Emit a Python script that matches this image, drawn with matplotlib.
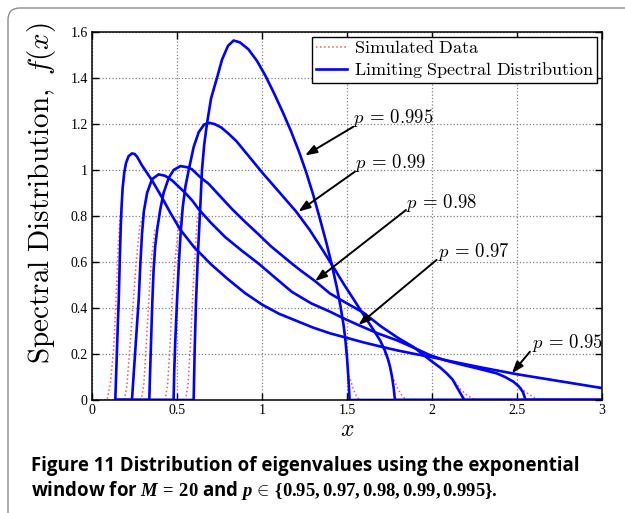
import matplotlib.pyplot as plt
from matplotlib.patches import FancyBboxPatch
from matplotlib.transforms import IdentityTransform

plt.rcParams['font.family'] = 'serif'
plt.rcParams['font.serif'] = ['Liberation Serif', 'DejaVu Serif']
plt.rcParams['mathtext.fontset'] = 'cm'
# fonts for the caption (math_fontfamily='custom')
plt.rcParams['mathtext.rm'] = 'Open Sans:bold'
plt.rcParams['mathtext.it'] = 'Liberation Serif:italic:bold'
plt.rcParams['mathtext.bf'] = 'Liberation Serif:bold'

# limiting spectral distribution
x95 = [0.137, 0.142, 0.147, 0.152, 0.157, 0.161, 0.165, 0.169, 0.174, 0.18, 0.19, 0.2, 0.215, 0.235, 0.25, 0.265,
       0.294, 0.353, 0.412, 0.46, 0.52, 0.6, 0.7, 0.8, 0.9, 1.0, 1.1, 1.2, 1.3, 1.4, 1.5,
       1.6, 1.7, 1.8, 1.9, 2.0, 2.1, 2.2, 2.3, 2.4, 2.5, 2.6, 2.7, 2.8, 2.9, 3.0]
y95 = [0, 0.11, 0.22, 0.33, 0.43, 0.54, 0.65, 0.75, 0.84, 0.92, 0.99, 1.03, 1.06, 1.072, 1.07, 1.058,
       1.02, 0.955, 0.88, 0.815, 0.74, 0.665, 0.59, 0.525, 0.465, 0.415, 0.375, 0.345, 0.315, 0.29, 0.27,
       0.25, 0.232, 0.215, 0.2, 0.186, 0.17, 0.155, 0.14, 0.126, 0.112, 0.1, 0.088, 0.076, 0.064, 0.052]

x97 = [0.137, 0.235, 0.245, 0.255, 0.265, 0.275, 0.285, 0.294, 0.305, 0.324, 0.353, 0.392, 0.43, 0.471, 0.549,
       0.59, 0.627, 0.7, 0.784, 0.88, 0.98, 1.08, 1.176, 1.29, 1.4, 1.48, 1.567, 1.68, 1.792, 1.9,
       1.988, 2.08, 2.184, 2.28, 2.38, 2.43, 2.478, 2.51, 2.535, 2.55, 3.0]
y97 = [0, 0, 0.11, 0.22, 0.33, 0.44, 0.6, 0.72, 0.82, 0.9, 0.96, 0.981, 0.975, 0.955, 0.9,
       0.867, 0.83, 0.77, 0.708, 0.65, 0.593, 0.53, 0.47, 0.42, 0.384, 0.355, 0.326, 0.29, 0.26, 0.225,
       0.195, 0.172, 0.152, 0.135, 0.116, 0.1, 0.08, 0.06, 0.035, 0, 0]

x98 = [0.137, 0.337, 0.343, 0.349, 0.355, 0.362, 0.372, 0.385, 0.402, 0.421, 0.451, 0.48, 0.52, 0.56, 0.588,
       0.635, 0.686, 0.755, 0.824, 0.9, 0.98, 1.05, 1.176, 1.224, 1.312, 1.4, 1.5, 1.596, 1.7, 1.8,
       1.89, 1.988, 2.05, 2.086, 2.12, 2.155, 2.19, 3.0]
y98 = [0, 0, 0.15, 0.29, 0.43, 0.56, 0.67, 0.75, 0.83, 0.9, 0.965, 1.0, 1.017, 1.012, 1.003,
       0.97, 0.94, 0.885, 0.83, 0.775, 0.72, 0.67, 0.593, 0.565, 0.517, 0.463, 0.42, 0.38, 0.32, 0.27,
       0.231, 0.174, 0.14, 0.116, 0.09, 0.045, 0, 0]

x99 = [0.137, 0.48, 0.484, 0.49, 0.5, 0.51, 0.52, 0.534, 0.55, 0.569, 0.598, 0.628, 0.66, 0.69, 0.72,
       0.76, 0.8, 0.85, 0.9, 0.95, 1.0, 1.1, 1.2, 1.28, 1.35, 1.42, 1.48, 1.537, 1.58, 1.62, 1.66,
       1.694, 1.72, 1.74, 1.753, 1.765, 1.775, 1.782, 3.0]
y99 = [0, 0, 0.13, 0.26, 0.43, 0.58, 0.71, 0.84, 0.93, 1.0, 1.1, 1.165, 1.198, 1.205, 1.2,
       1.185, 1.16, 1.125, 1.08, 1.035, 0.99, 0.905, 0.82, 0.74, 0.66, 0.578, 0.505, 0.44, 0.39, 0.345, 0.3,
       0.26, 0.22, 0.18, 0.145, 0.1, 0.05, 0, 0]

x995 = [0.137, 0.598, 0.604, 0.612, 0.624, 0.637, 0.647, 0.66, 0.676, 0.7, 0.735, 0.765, 0.8, 0.833, 0.87,
        0.92, 0.97, 1.02, 1.07, 1.12, 1.17, 1.22, 1.26, 1.3, 1.34, 1.38, 1.41, 1.44, 1.46, 1.48,
        1.49, 1.5, 1.507, 1.512, 1.515, 3.0]
y995 = [0, 0, 0.22, 0.43, 0.65, 0.84, 1.0, 1.11, 1.2, 1.31, 1.4, 1.48, 1.54, 1.563, 1.555,
        1.525, 1.475, 1.41, 1.335, 1.255, 1.17, 1.075, 0.99, 0.895, 0.79, 0.68, 0.59, 0.49, 0.415, 0.325,
        0.265, 0.185, 0.11, 0.05, 0, 0]

# simulated data: where it leaves the limiting curve (smoother edges)
sim_left = {
    0.95: ([0, 0.088, 0.108, 0.127, 0.141, 0.153, 0.165], [0, 0, 0.07, 0.22, 0.43, 0.65, 0.8]),
    0.97: ([0, 0.19, 0.205, 0.22, 0.24, 0.26, 0.28], [0, 0, 0.06, 0.2, 0.4, 0.6, 0.75]),
    0.98: ([0, 0.29, 0.305, 0.32, 0.335, 0.35, 0.37], [0, 0, 0.07, 0.25, 0.45, 0.62, 0.74]),
    0.99: ([0, 0.43, 0.445, 0.46, 0.472, 0.49, 0.51], [0, 0, 0.07, 0.25, 0.45, 0.62, 0.76]),
    0.995: ([0, 0.55, 0.565, 0.58, 0.592, 0.605, 0.618], [0, 0, 0.07, 0.25, 0.45, 0.62, 0.78]),
}
sim_right = {
    0.95: ([], []),
    0.97: ([2.52, 2.55, 2.58, 2.61, 2.64, 3.0], [0.055, 0.035, 0.02, 0.008, 0, 0]),
    0.98: ([2.14, 2.17, 2.2, 2.23, 2.26, 3.0], [0.075, 0.045, 0.025, 0.01, 0, 0]),
    0.99: ([1.775, 1.795, 1.815, 1.835, 1.855, 3.0], [0.09, 0.055, 0.028, 0.01, 0, 0]),
    0.995: ([1.52, 1.535, 1.55, 1.565, 1.58, 3.0], [0.09, 0.05, 0.025, 0.008, 0, 0]),
}

curves = {0.95: (x95, y95), 0.97: (x97, y97), 0.98: (x98, y98), 0.99: (x99, y99), 0.995: (x995, y995)}

# annotation: label position, arrow tail, arrow tip
labels = {
    0.995: ((1.537, 1.226), (1.537, 1.188), (1.253, 1.063)),
    0.99: ((1.547, 1.029), (1.547, 0.993), (1.214, 0.819)),
    0.98: ((1.847, 0.858), (1.847, 0.826), (1.312, 0.517)),
    0.97: ((2.037, 0.645), (2.027, 0.609), (1.567, 0.326)),
    0.95: ((2.586, 0.246), (2.576, 0.210), (2.470, 0.116)),
}


def sim_curve(bx, by, left, right):
    lx, ly = left
    rx, ry = right
    peak = bx[by.index(max(by))]
    i = next(k for k, v in enumerate(by) if v > ly[-1] and bx[k] > lx[-1])
    mx, my = [], []
    for a, b in zip(bx[i:], by[i:]):
        if rx and a >= rx[0]:
            break
        if rx and a > peak and b < ry[0]:
            break
        mx.append(a)
        my.append(b)
    return lx + mx + rx, ly + my + ry


fig = plt.figure(figsize=(6.25, 5.13), dpi=100)
ax = fig.add_axes([92 / 625, 113 / 513, 510 / 625, 368 / 513])

first = True
for p, (bx, by) in curves.items():
    sx, sy = sim_curve(bx, by, sim_left[p], sim_right[p])
    ax.plot(sx, sy, ':', color='#ff5555', lw=1.1, label=r'$\mathrm{Simulated\ Data}$' if first else None)
    first = False
first = True
for p, (bx, by) in curves.items():
    ax.plot(bx, by, '-', color='#0000ff', lw=1.9,
            label=r'$\mathrm{Limiting\ Spectral\ Distribution}$' if first else None)
    first = False

for p, (txt, tail, tip) in labels.items():
    ax.annotate('', xy=tip, xytext=tail,
                arrowprops=dict(arrowstyle='-|>,head_length=0.7,head_width=0.25', color='k', lw=1.4,
                                shrinkA=0, shrinkB=0))
    ax.text(txt[0], txt[1], r'$p\,=\,%s$' % p, fontsize=13.5, ha='left', va='center')

ax.set_xlim(0, 3)
ax.set_ylim(0, 1.6)
ax.set_xticks([0, 0.5, 1, 1.5, 2, 2.5, 3])
ax.set_xticklabels(['0', '0.5', '1', '1.5', '2', '2.5', '3'])
ax.set_yticks([0, 0.2, 0.4, 0.6, 0.8, 1.0, 1.2, 1.4, 1.6])
ax.set_yticklabels(['0', '0.2', '0.4', '0.6', '0.8', '1', '1.2', '1.4', '1.6'])
ax.tick_params(direction='in', top=True, right=True, length=5, width=1, labelsize=10, pad=3)
ax.grid(True, linestyle=':', color='0.5', lw=0.9)
for s in ax.spines.values():
    s.set_linewidth(1.1)

ax.set_xlabel(r'$x$', fontsize=17, labelpad=2)
ax.set_ylabel(r'$\mathrm{Spectral\ Distribution,}\ f(x)$', fontsize=21)
ax.yaxis.set_label_coords(-0.066, 0.5625)

leg = ax.legend(loc='upper right', bbox_to_anchor=(1, 1), borderaxespad=0.25, fontsize=13,
                fancybox=False, framealpha=1, edgecolor='k', handlelength=1.7, handletextpad=0.4,
                borderpad=0.2, labelspacing=0.15)
leg.get_frame().set_linewidth(1.0)

# caption
fig.text(31 / 625, (513 - 466) / 513, 'Figure 11 Distribution of eigenvalues using the exponential',
         family='Open Sans', weight='bold', fontsize=13.4, va='center', ha='left')
fig.text(31 / 625, (513 - 490) / 513,
         r'$\mathrm{window\ for\ }M\,\mathbf{=}\,\mathbf{20}\mathrm{\ and\ }p\,\mathbf{\in}\,'
         r'\mathbf{\{0.95,0.97,0.98,0.99,0.995\}.}$',
         math_fontfamily='custom', fontsize=13.4, va='center', ha='left')

# page frame with rounded corner
frame = FancyBboxPatch((8, -60), 700, 505 + 60, boxstyle='round,pad=0,rounding_size=12',
                       transform=IdentityTransform(), fill=False, edgecolor='0.55', lw=1.0)
fig.add_artist(frame)

fig.savefig('out.png', dpi=100)
